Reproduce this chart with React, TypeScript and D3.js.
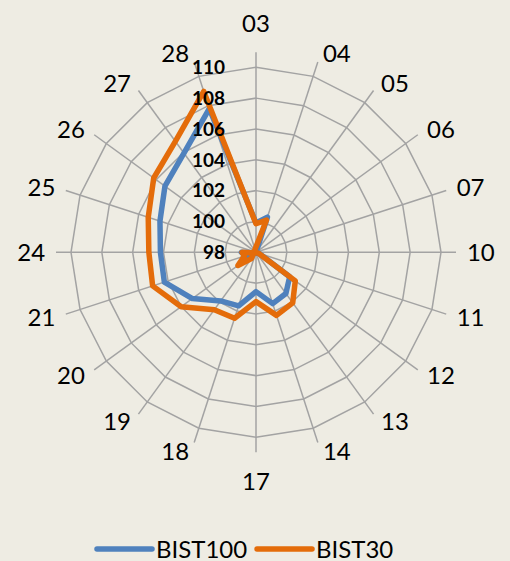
import React from "react";
import * as d3 from "d3";

const categories = ["03","04","05","06","07","10","11","12","13","14","17","18","19","20","21","24","25","26","27","28"];
const bist100 = [99.9, 100.4, 98.0, 97.6, 97.3, 97.05, 98.2, 100.7, 101.3, 101.5, 100.55, 101.65, 101.9, 103.1, 104.25, 104.2, 104.55, 105.3, 105.95, 107.8];
const bist30 = [99.85, 100.2, 97.5, 96.55, 97.2, 97.1, 98.15, 101.15, 102.05, 102.3, 101.2, 102.5, 102.6, 104.0, 105.05, 104.95, 105.35, 106.2, 106.9, 108.97];
const radialTicks = [98, 100, 102, 104, 106, 108, 110];
const seriesNames = ["BIST100", "BIST30"];
const seriesColors = ["#4F81BD", "#E46C0A"];

const W = 510;
const H = 561;
const CX = 256;
const CY = 252.3;
const R = 185;
const SPOKE = 200;
const FONT = "Lato, 'Open Sans', sans-serif";

export default function App() {
  const r = d3.scaleLinear().domain([98, 110]).range([0, R]);
  const step = (2 * Math.PI) / categories.length;
  const angles = categories.map((_, i) => i * step);

  const ringPath = (v: number) =>
    d3.lineRadial<number>().angle((a) => a).radius(() => r(v)).curve(d3.curveLinearClosed)(angles) || "";

  const seriesLine = d3
    .lineRadial<number>()
    .angle((_, i) => i * step)
    .radius((d) => r(d))
    .curve(d3.curveLinearClosed);

  const series = [bist100, bist30];

  return (
    <svg
      width={W}
      height={H}
      style={{ position: "absolute", left: 0, top: 0, background: "#EEECE3" }}
    >
      <rect x={0} y={0} width={W} height={H} fill="#EEECE3" />
      <g transform={`translate(${CX},${CY})`}>
        {radialTicks.slice(1).map((t) => (
          <path key={t} d={ringPath(t)} fill="none" stroke="#A3A3A3" strokeWidth={1.5} />
        ))}
        {angles.map((a, i) => (
          <line
            key={i}
            x1={0}
            y1={0}
            x2={SPOKE * Math.sin(a)}
            y2={-SPOKE * Math.cos(a)}
            stroke="#A3A3A3"
            strokeWidth={1.5}
          />
        ))}
        {series.map((s, k) => (
          <path
            key={k}
            d={seriesLine(s) || ""}
            fill="none"
            stroke={seriesColors[k]}
            strokeWidth={5.5}
            strokeLinejoin="round"
          />
        ))}
        {radialTicks.map((t) => (
          <text
            key={t}
            x={-31}
            y={-r(t) + 0.36 * 19}
            textAnchor="end"
            fontFamily={FONT}
            fontWeight="bold"
            fontSize={19}
            fill="#000"
          >
            {t}
          </text>
        ))}
        {categories.map((c, i) => {
          const a = angles[i];
          const s = Math.sin(a);
          const co = Math.cos(a);
          const ex = SPOKE * s;
          const ey = -SPOKE * co;
          let dx = 0;
          let dy = 0;
          if (Math.abs(s) < 0.01) {
            dy = co > 0 ? -29 : 29;
          } else {
            dx = Math.sign(s) * (16.5 + 8.3 * Math.abs(s));
            dy = -9.2 * co;
          }
          return (
            <text
              key={c}
              x={ex + dx}
              y={ey + dy + 0.36 * 24}
              textAnchor="middle"
              fontFamily={FONT}
              fontSize={24}
              fill="#000"
            >
              {c}
            </text>
          );
        })}
      </g>
      <g>
        {seriesNames.map((n, k) => {
          const x0 = k === 0 ? 97 : 257;
          return (
            <g key={n}>
              <line
                x1={x0}
                y1={549}
                x2={x0 + 55}
                y2={549}
                stroke={seriesColors[k]}
                strokeWidth={5.5}
                strokeLinecap="round"
              />
              <text x={x0 + 59} y={557.5} fontFamily={FONT} fontSize={24} fill="#000">
                {n}
              </text>
            </g>
          );
        })}
      </g>
    </svg>
  );
}
